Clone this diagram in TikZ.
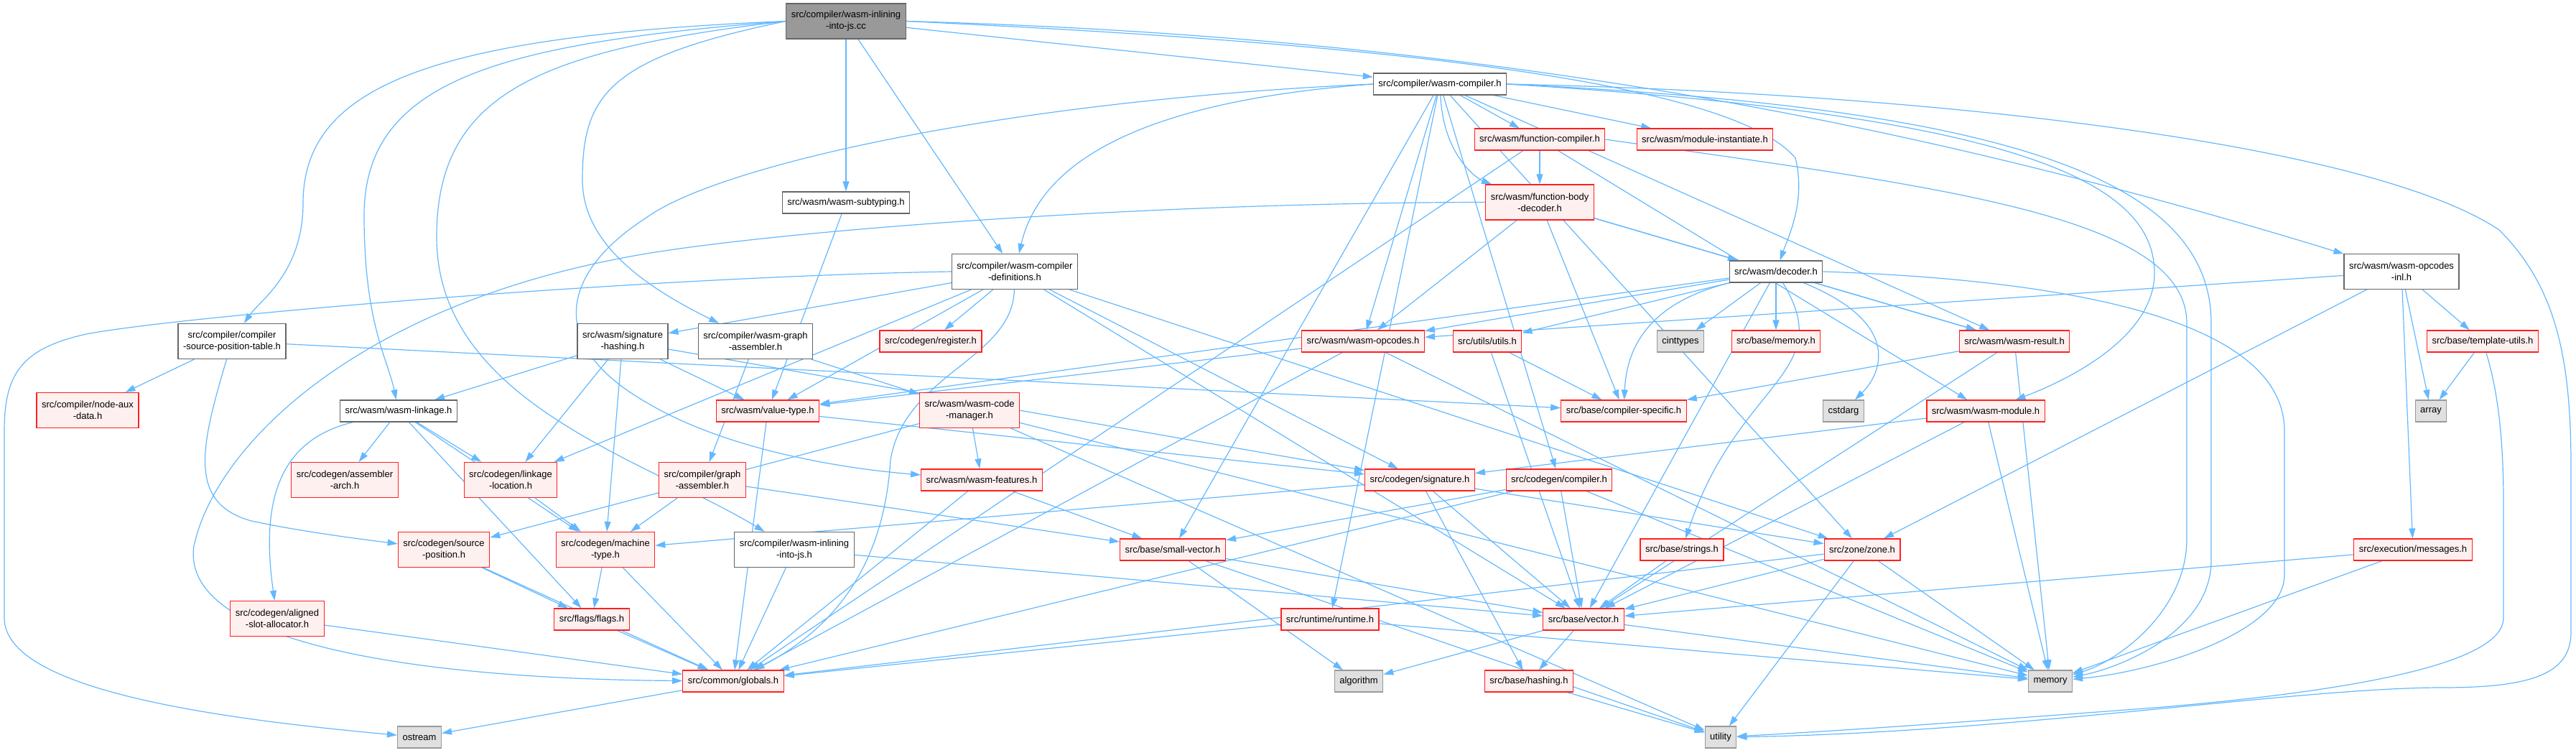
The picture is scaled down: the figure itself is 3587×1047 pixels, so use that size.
\documentclass[tikz,border=0pt]{standalone}
\usepackage{fontspec}
\setmainfont{Liberation Sans}
\usetikzlibrary{arrows.meta}
\pgfdeclarelayer{bg}
\pgfsetlayers{bg,main}

\definecolor{edgeblue}{HTML}{63B8FF}
\definecolor{redline}{HTML}{FF2020}
\definecolor{redfill}{HTML}{FFF0F0}
\definecolor{sysfill}{HTML}{E0E0E0}
\definecolor{sysline}{HTML}{999999}
\definecolor{hdrline}{HTML}{666666}

\begin{document}
\begin{tikzpicture}[
    x=1pt, y=-1pt,
    hdr/.style={draw=hdrline, fill=white, line width=1.2pt, align=center, inner xsep=7pt,
        minimum height=30pt, font=\fontsize{13}{16}\selectfont},
    mainhdr/.style={hdr, fill=sysline},
    redhdr/.style={hdr, draw=redline, fill=redfill},
    syshdr/.style={hdr, draw=sysline, fill=sysfill},
    two/.style={minimum height=49pt},
    edge/.style={-{Triangle[length=14pt,width=9pt]}, draw=edgeblue, line width=1.2pt}
]
    \useasboundingbox (0,0) rectangle (3587,1047);

    % row 0 -- 3
    \node[mainhdr,two] (root) at (1178,29.5) {src/compiler/wasm-inlining\\-into-js.cc};
    \node[hdr] (wcomp) at (2005,117) {src/compiler/wasm-compiler.h};
    \node[redhdr] (fcomp) at (2144,194) {src/wasm/function-compiler.h};
    \node[redhdr] (modinst) at (2374,194) {src/wasm/module-instantiate.h};
    \node[redhdr,two] (fbdec) at (2144,281.5) {src/wasm/function-body\\-decoder.h};
    \node[hdr] (subtyp) at (1178,282) {src/wasm/wasm-subtyping.h};
    \node[hdr,two] (wcdefs) at (1413,378) {src/compiler/wasm-compiler\\-definitions.h};
    \node[hdr] (decoder) at (2473,378) {src/wasm/decoder.h};
    \node[hdr,two] (opinl) at (3344,378) {src/wasm/wasm-opcodes\\-inl.h};

    % row 4 -- 5
    \node[hdr,two] (srcpostab) at (323,475) {src/compiler/compiler\\-source-position-table.h};
    \node[hdr,two] (sighash) at (867,475) {src/wasm/signature\\-hashing.h};
    \node[hdr,two] (wgasm) at (1052,475) {src/compiler/wasm-graph\\-assembler.h};
    \node[redhdr] (register) at (1296,475) {src/codegen/register.h};
    \node[redhdr] (opcodes) at (1898,475) {src/wasm/wasm-opcodes.h};
    \node[redhdr] (utils) at (2071,475) {src/utils/utils.h};
    \node[syshdr] (cinttypes) at (2340,475) {cinttypes};
    \node[redhdr] (basememory) at (2473,475) {src/base/memory.h};
    \node[redhdr] (wresult) at (2805,475) {src/wasm/wasm-result.h};
    \node[redhdr] (tmplutils) at (3457,475) {src/base/template-utils.h};
    \node[hdr] (linkage) at (555,572) {src/wasm/wasm-linkage.h};
    \node[redhdr,two] (nodeaux) at (122,571) {src/compiler/node-aux\\-data.h};
    \node[redhdr] (valtype) at (1069,572) {src/wasm/value-type.h};
    \node[redhdr,two] (codemgr) at (1350,571) {src/wasm/wasm-code\\-manager.h};
    \node[redhdr] (cspec) at (2261,572) {src/base/compiler-specific.h};
    \node[syshdr] (cstdarg) at (2567,572) {cstdarg};
    \node[redhdr] (wmodule) at (2765,572) {src/wasm/wasm-module.h};
    \node[syshdr] (array) at (3385,572) {array};

    % row 6 -- 7
    \node[redhdr,two] (asmarch) at (480,668) {src/codegen/assembler\\-arch.h};
    \node[redhdr,two] (linkloc) at (711,668) {src/codegen/linkage\\-location.h};
    \node[redhdr,two] (gasm) at (978,668) {src/compiler/graph\\-assembler.h};
    \node[redhdr] (features) at (1367,668) {src/wasm/wasm-features.h};
    \node[redhdr] (csig) at (1977,668) {src/codegen/signature.h};
    \node[redhdr] (ccomp) at (2171,668) {src/codegen/compiler.h};
    \node[redhdr,two] (srcpos) at (618,765) {src/codegen/source\\-position.h};
    \node[redhdr,two] (mtype) at (843,765) {src/codegen/machine\\-type.h};
    \node[hdr,two] (inljs) at (1106,765) {src/compiler/wasm-inlining\\-into-js.h};
    \node[redhdr] (smallvec) at (1633,765) {src/base/small-vector.h};
    \node[redhdr] (strings) at (2342,765) {src/base/strings.h};
    \node[redhdr] (zone) at (2593,765) {src/zone/zone.h};
    \node[redhdr] (messages) at (3360,765) {src/execution/messages.h};

    % row 8 -- 10
    \node[redhdr,two] (aligned) at (386,861) {src/codegen/aligned\\-slot-allocator.h};
    \node[redhdr] (flags) at (824,862) {src/flags/flags.h};
    \node[redhdr] (runtime) at (1852,862) {src/runtime/runtime.h};
    \node[redhdr] (vector) at (2205,862) {src/base/vector.h};
    \node[redhdr] (globals) at (1021,948) {src/common/globals.h};
    \node[syshdr] (algorithm) at (1892,948) {algorithm};
    \node[redhdr] (hashing) at (2129,948) {src/base/hashing.h};
    \node[syshdr] (memory) at (2855,948) {memory};
    \node[syshdr] (ostream) at (584,1026) {ostream};
    \node[syshdr] (utility) at (2396,1026) {utility};

    \begin{pgfonlayer}{bg}
    % straight includes
    \foreach \t in {wcomp,subtyp,wcdefs} \draw[edge] (root) -- (\t);
    \foreach \t in {fcomp,modinst,opcodes,runtime,smallvec,ccomp,wresult,zone}
        \draw[edge] (wcomp) -- (\t);
    \foreach \t in {fbdec,wmodule,globals} \draw[edge] (fcomp) -- (\t);
    \foreach \t in {decoder,opcodes,cspec,wresult} \draw[edge] (fbdec) -- (\t);
    \draw[edge] (subtyp) -- (valtype);
    \foreach \t in {register,sighash,valtype,linkloc,csig,vector,zone} \draw[edge] (wcdefs) -- (\t);
    \foreach \t in {opcodes,utils,cinttypes,basememory,wresult,vector,valtype}
        \draw[edge] (decoder) -- (\t);
    \foreach \t in {opcodes,tmplutils,array,messages,zone} \draw[edge] (opinl) -- (\t);
    \foreach \t in {nodeaux,cspec} \draw[edge] (srcpostab) -- (\t);
    \foreach \t in {linkage,linkloc,valtype,mtype,csig} \draw[edge] (sighash) -- (\t);
    \foreach \t in {gasm,codemgr} \draw[edge] (wgasm) -- (\t);
    \foreach \t in {valtype,globals,memory} \draw[edge] (opcodes) -- (\t);
    \foreach \t in {cspec,vector} \draw[edge] (utils) -- (\t);
    \foreach \t in {cspec,memory,vector} \draw[edge] (wresult) -- (\t);
    \draw[edge] (tmplutils) -- (array);
    \foreach \t in {asmarch,linkloc,mtype,flags} \draw[edge] (linkage) -- (\t);
    \foreach \t in {globals,csig} \draw[edge] (valtype) -- (\t);
    \foreach \t in {features,srcpos,memory,utility} \draw[edge] (codemgr) -- (\t);
    \foreach \t in {csig,vector,memory} \draw[edge] (wmodule) -- (\t);
    \draw[edge] (linkloc) -- (mtype);
    \foreach \t in {mtype,smallvec} \draw[edge] (gasm) -- (\t);
    \foreach \t in {globals,smallvec} \draw[edge] (features) -- (\t);
    \foreach \t in {hashing,vector,zone,mtype} \draw[edge] (csig) -- (\t);
    \foreach \t in {smallvec,globals,memory,vector} \draw[edge] (ccomp) -- (\t);
    \foreach \t in {flags,globals} \draw[edge] (srcpos) -- (\t);
    \foreach \t in {flags,globals} \draw[edge] (mtype) -- (\t);
    \foreach \t in {globals,vector} \draw[edge] (inljs) -- (\t);
    \foreach \t in {vector,algorithm,utility} \draw[edge] (smallvec) -- (\t);
    \draw[edge] (strings) -- (vector);
    \foreach \t in {vector,globals,utility,memory} \draw[edge] (zone) -- (\t);
    \foreach \t in {vector,memory} \draw[edge] (messages) -- (\t);
    \draw[edge] (aligned) -- (globals);
    \draw[edge] (flags) -- (globals);
    \foreach \t in {globals,memory} \draw[edge] (runtime) -- (\t);
    \foreach \t in {algorithm,hashing,memory} \draw[edge] (vector) -- (\t);
    \draw[edge] (hashing) -- (utility);
    \draw[edge] (globals) -- (ostream);

    % routed includes
    \draw[edge] (root.west) .. controls (600,50) and (422,120) .. (422,283)
        .. controls (422,380) and (360,420) .. (srcpostab);
    \draw[edge] (root.west) .. controls (700,60) and (507,110) .. (507,300)
        .. controls (507,450) and (540,500) .. (linkage);
    \draw[edge] (root.west) .. controls (750,70) and (608,130) .. (608,330)
        .. controls (608,560) and (900,640) .. (inljs);
    \draw[edge] (root.west) .. controls (850,80) and (811,130) .. (811,250)
        .. controls (811,340) and (900,400) .. (wgasm);
    \draw[edge] (root.east) .. controls (1800,55) and (2400,100) .. (2500,220)
        .. controls (2515,280) and (2490,330) .. (decoder);
    \draw[edge] (root.east) .. controls (2000,50) and (2600,150) .. (opinl);
    \draw[edge] (wcomp) .. controls (2010,220) and (2060,250) .. (fbdec);
    \draw[edge] (wcomp.west) .. controls (1600,140) and (1450,220) .. (wcdefs);
    \draw[edge] (wcomp.west) .. controls (1400,140) and (1000,230) .. (900,303)
        .. controls (780,380) and (760,480) .. (900,560)
        .. controls (1000,620) and (1150,650) .. (features);
    \draw[edge] (wcomp.east) .. controls (2700,130) and (3300,200) .. (3480,320)
        .. controls (3560,400) and (3580,500) .. (3580,650) -- (3580,880)
        .. controls (3580,940) and (3520,957) .. (3400,957)
        .. controls (3200,957) and (2800,1020) .. (utility);
    \draw[edge] (wcomp.east) .. controls (2800,150) and (3079,250) .. (3079,450) -- (3079,780)
        .. controls (3079,880) and (2950,930) .. (memory);
    \draw[edge] (wcomp.east) .. controls (2800,160) and (3000,250) .. (3000,380)
        .. controls (3000,480) and (2850,540) .. (wmodule);
    \draw[edge] (fcomp.east) .. controls (2700,260) and (3045,300) .. (3045,450) -- (3045,750)
        .. controls (3045,850) and (2950,920) .. (memory);
    \draw[edge] (decoder.east) .. controls (2900,390) and (3181,450) .. (3181,600) -- (3181,800)
        .. controls (3181,880) and (3000,935) .. (memory);
    \draw[edge] (tmplutils) .. controls (3480,550) and (3486,620) .. (3486,700) -- (3486,860)
        .. controls (3486,920) and (3300,960) .. (3000,985)
        .. controls (2800,1000) and (2600,1015) .. (utility);
    \draw[edge] (fbdec.west) .. controls (1600,282) and (1100,320) .. (900,353)
        .. controls (500,420) and (300,620) .. (270,760)
        .. controls (250,900) and (600,945) .. (globals);
    \draw[edge] (wcdefs.west) .. controls (900,385) and (250,440) .. (120,465)
        .. controls (30,485) and (6,520) .. (6,600) -- (6,860)
        .. controls (6,960) and (300,1000) .. (ostream);
    \draw[edge] (wcdefs) .. controls (1410,500) and (1260,520) .. (1240,640)
        .. controls (1230,800) and (1150,880) .. (globals);
    \draw[edge] (srcpostab) .. controls (280,620) and (260,700) .. (350,725)
        .. controls (420,740) and (500,750) .. (srcpos);
    \draw[edge] (linkage) .. controls (400,610) and (360,680) .. (aligned);
    \draw[edge] (decoder) .. controls (2300,420) and (2265,480) .. (cspec);
    \draw[edge] (decoder) .. controls (2560,520) and (2420,530) .. (strings);
    \draw[edge] (decoder) .. controls (2650,450) and (2620,520) .. (cstdarg);
    \end{pgfonlayer}
\end{tikzpicture}
\end{document}
